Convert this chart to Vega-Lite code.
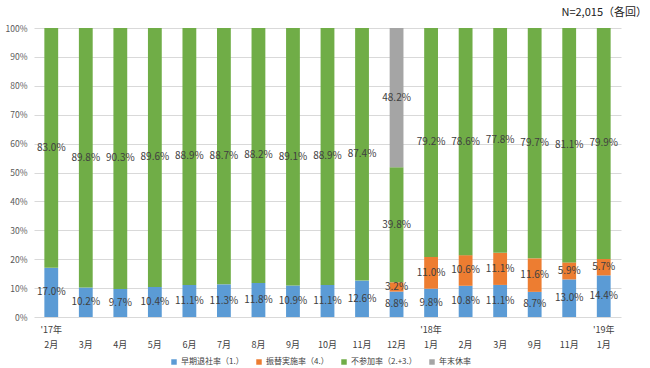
{
  "$schema": "https://vega.github.io/schema/vega-lite/v6.json",
  "width": 587,
  "height": 289,
  "autosize": {"type": "none"},
  "padding": {"left": 34, "top": 28, "right": 29, "bottom": 51},
  "title": {"text": "N=2,015（各回）", "anchor": "end", "fontSize": 11, "fontWeight": "normal", "font": "Noto Sans CJK JP", "color": "#222222", "dx": 26, "offset": 6},
  "config": {"view": {"stroke": null}, "font": "Noto Sans CJK JP"},
  "data": {"values": [
    {"period": "2017-02", "series": "早期退社率（1.）", "o": 1, "value": 0.170},
    {"period": "2017-02", "series": "不参加率（2.+3.）", "o": 3, "value": 0.830},
    {"period": "2017-03", "series": "早期退社率（1.）", "o": 1, "value": 0.102},
    {"period": "2017-03", "series": "不参加率（2.+3.）", "o": 3, "value": 0.898},
    {"period": "2017-04", "series": "早期退社率（1.）", "o": 1, "value": 0.097},
    {"period": "2017-04", "series": "不参加率（2.+3.）", "o": 3, "value": 0.903},
    {"period": "2017-05", "series": "早期退社率（1.）", "o": 1, "value": 0.104},
    {"period": "2017-05", "series": "不参加率（2.+3.）", "o": 3, "value": 0.896},
    {"period": "2017-06", "series": "早期退社率（1.）", "o": 1, "value": 0.111},
    {"period": "2017-06", "series": "不参加率（2.+3.）", "o": 3, "value": 0.889},
    {"period": "2017-07", "series": "早期退社率（1.）", "o": 1, "value": 0.113},
    {"period": "2017-07", "series": "不参加率（2.+3.）", "o": 3, "value": 0.887},
    {"period": "2017-08", "series": "早期退社率（1.）", "o": 1, "value": 0.118},
    {"period": "2017-08", "series": "不参加率（2.+3.）", "o": 3, "value": 0.882},
    {"period": "2017-09", "series": "早期退社率（1.）", "o": 1, "value": 0.109},
    {"period": "2017-09", "series": "不参加率（2.+3.）", "o": 3, "value": 0.891},
    {"period": "2017-10", "series": "早期退社率（1.）", "o": 1, "value": 0.111},
    {"period": "2017-10", "series": "不参加率（2.+3.）", "o": 3, "value": 0.889},
    {"period": "2017-11", "series": "早期退社率（1.）", "o": 1, "value": 0.126},
    {"period": "2017-11", "series": "不参加率（2.+3.）", "o": 3, "value": 0.874},
    {"period": "2017-12", "series": "早期退社率（1.）", "o": 1, "value": 0.088},
    {"period": "2017-12", "series": "振替実施率（4.）", "o": 2, "value": 0.032},
    {"period": "2017-12", "series": "不参加率（2.+3.）", "o": 3, "value": 0.398},
    {"period": "2017-12", "series": "年末休率", "o": 4, "value": 0.482},
    {"period": "2018-01", "series": "早期退社率（1.）", "o": 1, "value": 0.098},
    {"period": "2018-01", "series": "振替実施率（4.）", "o": 2, "value": 0.110},
    {"period": "2018-01", "series": "不参加率（2.+3.）", "o": 3, "value": 0.792},
    {"period": "2018-02", "series": "早期退社率（1.）", "o": 1, "value": 0.108},
    {"period": "2018-02", "series": "振替実施率（4.）", "o": 2, "value": 0.106},
    {"period": "2018-02", "series": "不参加率（2.+3.）", "o": 3, "value": 0.786},
    {"period": "2018-03", "series": "早期退社率（1.）", "o": 1, "value": 0.111},
    {"period": "2018-03", "series": "振替実施率（4.）", "o": 2, "value": 0.111},
    {"period": "2018-03", "series": "不参加率（2.+3.）", "o": 3, "value": 0.778},
    {"period": "2018-09", "series": "早期退社率（1.）", "o": 1, "value": 0.087},
    {"period": "2018-09", "series": "振替実施率（4.）", "o": 2, "value": 0.116},
    {"period": "2018-09", "series": "不参加率（2.+3.）", "o": 3, "value": 0.797},
    {"period": "2018-11", "series": "早期退社率（1.）", "o": 1, "value": 0.130},
    {"period": "2018-11", "series": "振替実施率（4.）", "o": 2, "value": 0.059},
    {"period": "2018-11", "series": "不参加率（2.+3.）", "o": 3, "value": 0.811},
    {"period": "2019-01", "series": "早期退社率（1.）", "o": 1, "value": 0.144},
    {"period": "2019-01", "series": "振替実施率（4.）", "o": 2, "value": 0.057},
    {"period": "2019-01", "series": "不参加率（2.+3.）", "o": 3, "value": 0.799}
  ]},
  "transform": [
    {"stack": "value", "groupby": ["period"], "sort": [{"field": "o", "order": "ascending"}], "as": ["v0", "v1"]},
    {"calculate": "(datum.v0 + datum.v1) / 2", "as": "mid"}
  ],
  "encoding": {
    "x": {
      "field": "period", "type": "nominal", "sort": null,
      "scale": {"paddingInner": 0.6, "paddingOuter": 0.3},
      "axis": {
        "title": null, "ticks": false, "domain": false, "labelAngle": 0,
        "labelFontSize": 9, "labelColor": "#404040", "labelPadding": 8, "labelLineHeight": 15,
        "labelExpr": "[indexof(['2017-02','2018-01','2019-01'], datum.value) >= 0 ? \"'\" + substring(datum.value, 2, 4) + '年' : '', toNumber(substring(datum.value, 5, 7)) + '月']"
      }
    }
  },
  "layer": [
    {
      "mark": {"type": "bar"},
      "encoding": {
        "y": {
          "field": "v0", "type": "quantitative",
          "scale": {"domain": [0, 1], "nice": false},
          "axis": {"title": null, "format": "%", "values": [0, 0.1, 0.2, 0.3, 0.4, 0.5, 0.6, 0.7, 0.8, 0.9, 1],
            "domain": false, "ticks": false, "labelFontSize": 8.5, "labelColor": "#595959", "labelPadding": 7,
            "gridColor": "#d9d9d9", "gridWidth": 1, "labelOverlap": false}
        },
        "y2": {"field": "v1"},
        "color": {
          "field": "series", "type": "nominal",
          "scale": {"domain": ["早期退社率（1.）", "振替実施率（4.）", "不参加率（2.+3.）", "年末休率"],
                    "range": ["#5b9bd5", "#ed7d31", "#70ad47", "#a5a5a5"]},
          "legend": {"title": null, "orient": "none", "legendX": 136, "legendY": 330, "direction": "horizontal", "symbolType": "square",
            "symbolSize": 30, "labelFontSize": 8, "labelColor": "#404040", "columnPadding": 11, "symbolOffset": 0, "labelOffset": 3}
        }
      }
    },
    {
      "mark": {"type": "text", "fontSize": 10, "color": "#404040"},
      "encoding": {
        "y": {
          "field": "mid", "type": "quantitative",
          "scale": {"domain": [0, 1], "nice": false},
          "axis": {"title": null, "format": "%", "values": [0, 0.1, 0.2, 0.3, 0.4, 0.5, 0.6, 0.7, 0.8, 0.9, 1],
            "domain": false, "ticks": false, "labelFontSize": 8.5, "labelColor": "#595959", "labelPadding": 7,
            "gridColor": "#d9d9d9", "gridWidth": 1, "labelOverlap": false}
        },
        "text": {"field": "value", "type": "quantitative", "format": ".1%"}
      }
    }
  ]
}
